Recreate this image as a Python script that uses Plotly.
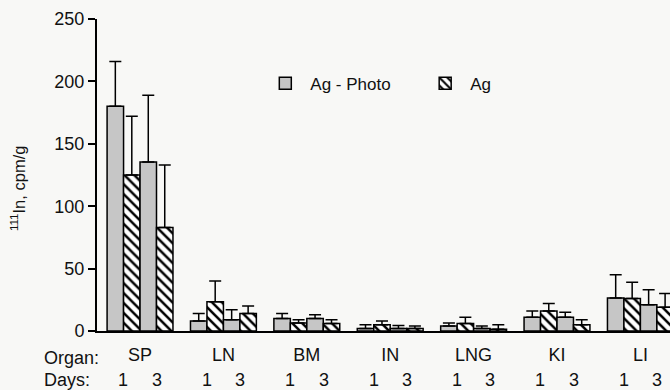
import plotly.graph_objects as go

organs = ["SP", "LN", "BM", "IN", "LNG", "KI", "LI"]
day_labels = ["1", "3"]

# Mean values (111In, cpm/g)
photo_d1 = [180, 8, 10, 2, 4, 11, 26.5]
ag_d1 = [125, 23.5, 6.5, 5, 6, 16, 26]
photo_d3 = [135.5, 9, 10, 2, 2, 11, 21]
ag_d3 = [83, 14, 6, 2, 1.5, 5, 19]

# Upper error (top of error bar)
photo_d1_top = [216, 14, 14, 5, 6.5, 16, 45]
ag_d1_top = [172, 40, 9, 8, 11, 22, 39]
photo_d3_top = [189, 17, 13, 4.5, 4, 15, 33]
ag_d3_top = [133, 20, 9, 4, 5, 9, 30]

FONT = "Liberation Sans, Arial, Helvetica, sans-serif"
GREY = "#c6c6c6"
BG = "#f8f8f6"

def err(vals, tops):
    return dict(type="data", symmetric=False,
                array=[t - v for v, t in zip(vals, tops)],
                arrayminus=[0] * len(vals),
                color="black", thickness=1.5, width=6)

def bar(name, vals, tops, hatched, show, legend):
    marker = dict(line=dict(color="black", width=1.5))
    if hatched:
        marker.update(color="white",
                      pattern=dict(shape="\\", fgcolor="black", bgcolor="white",
                                   size=7, solidity=0.36, fillmode="replace"))
    else:
        marker.update(color=GREY)
    return go.Bar(x=organs, y=vals, name=name, marker=marker,
                  error_y=err(vals, tops), showlegend=show, legendgroup=name,
                  legend=legend)

fig = go.Figure()
fig.add_trace(bar("Ag - Photo", photo_d1, photo_d1_top, False, True, "legend"))
fig.add_trace(bar("Ag", ag_d1, ag_d1_top, True, True, "legend2"))
fig.add_trace(bar("Ag - Photo", photo_d3, photo_d3_top, False, False, "legend"))
fig.add_trace(bar("Ag", ag_d3, ag_d3_top, True, False, "legend2"))

annotations = []
for i, org in enumerate(organs):
    for off, d in zip((-0.2, 0.2), day_labels):
        annotations.append(dict(x=i + off, y=-0.157, xref="x", yref="paper",
                                text=d, showarrow=False, xanchor="center",
                                yanchor="middle",
                                font=dict(size=18, color="#111", family=FONT)))
annotations.append(dict(x=-0.096, y=-0.0865, xref="paper", yref="paper",
                        text="Organ:", showarrow=False, xanchor="left",
                        yanchor="middle", font=dict(size=18, color="#111", family=FONT)))
annotations.append(dict(x=-0.096, y=-0.157, xref="paper", yref="paper",
                        text="Days:", showarrow=False, xanchor="left",
                        yanchor="middle", font=dict(size=18, color="#111", family=FONT)))
annotations.append(dict(x=-0.138, y=0.458, xref="paper", yref="paper",
                        text="<sup>111</sup>In, cpm/g", textangle=-90,
                        showarrow=False, xanchor="center", yanchor="middle",
                        font=dict(size=16.5, color="#111", family=FONT)))

legend_common = dict(orientation="h", y=0.85, xanchor="left", yanchor="top",
                     bgcolor="rgba(0,0,0,0)", font=dict(size=17, family=FONT),
                     itemwidth=40)

fig.update_layout(
    width=670, height=390, autosize=False,
    margin=dict(l=97, r=0, t=19, b=59, autoexpand=False),
    paper_bgcolor=BG, plot_bgcolor=BG,
    barmode="group", bargap=0.21, bargroupgap=0,
    font=dict(family=FONT, size=17, color="#111"),
    legend=dict(x=0.285, **legend_common),
    legend2=dict(x=0.564, **legend_common),
    annotations=annotations,
    xaxis=dict(range=[-0.516, 6.355], autorange=False, showline=True,
               linecolor="black", linewidth=2, ticks="", showgrid=False,
               zeroline=False, tickfont=dict(size=18, family=FONT, color="#111"),
               ticklabelstandoff=6),
    yaxis=dict(range=[0, 250], autorange=False, tickvals=[0, 50, 100, 150, 200, 250],
               showline=True, linecolor="black", linewidth=2,
               ticks="outside", ticklen=7, tickwidth=2, tickcolor="black",
               showgrid=False, zeroline=False,
               tickfont=dict(size=18, family=FONT, color="#111")),
)

fig.write_html("out.html",
               config={"responsive": False, "displayModeBar": False},
               post_script="document.body.style.margin='0';document.body.style.overflow='hidden';")
